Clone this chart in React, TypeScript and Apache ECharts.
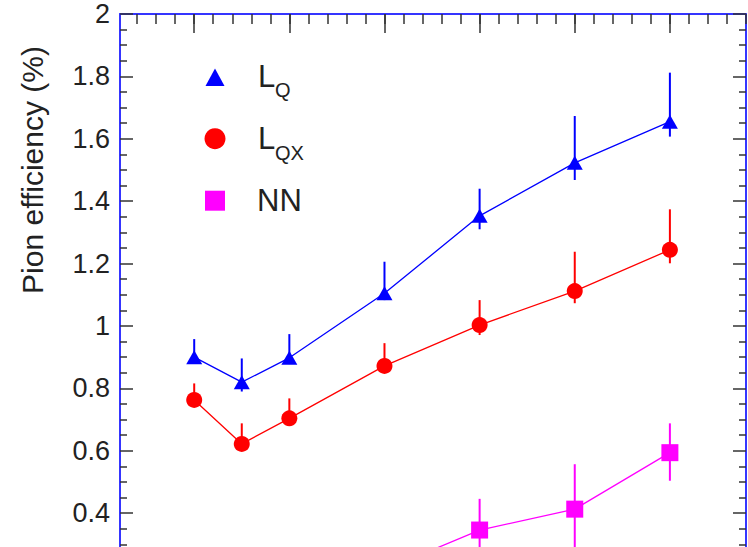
import React, { useEffect, useRef } from "react";
import * as echarts from "echarts";

// x positions (arbitrary units: major ticks at integers)
const xs = [1, 1.5, 2, 3, 4, 5, 6];

// L_Q (blue triangles)
const lqVal = [0.9, 0.82, 0.898, 1.105, 1.353, 1.523, 1.655];
const lqLow = [0.88, 0.79, 0.878, 1.083, 1.31, 1.468, 1.607];
const lqHigh = [0.958, 0.896, 0.974, 1.206, 1.44, 1.673, 1.812];

// L_QX (red circles)
const lqxVal = [0.763, 0.622, 0.704, 0.872, 1.003, 1.112, 1.244];
const lqxLow = [0.745, 0.605, 0.685, 0.85, 0.971, 1.073, 1.201];
const lqxHigh = [0.816, 0.688, 0.768, 0.945, 1.083, 1.238, 1.374];

// NN (magenta squares)
const nnX = [3, 4, 5, 6];
const nnVal = [0.218, 0.346, 0.413, 0.594];
const nnLow = [0.17, 0.25, 0.27, 0.504];
const nnHigh = [0.27, 0.446, 0.557, 0.688];

const xMajorTicks = [1, 2, 3, 4, 5, 6];
const xMinorTicks: number[] = [];
for (let i = 2; i <= 34; i++) xMinorTicks.push(Math.round(i * 0.2 * 10) / 10);

// tick labels visible in the picture (0 and 0.2 lie below the visible area)
const yTickLabels = ["", "", "0.4", "0.6", "0.8", "1", "1.2", "1.4", "1.6", "1.8", "2"];

const BLUE = "#0000ff";
const RED = "#ff0000";
const MAGENTA = "#ff00ff";
const AXIS_BLUE = "#3535ff";
const TICK = "#333333";
const FONT = "'Liberation Sans', Arial, Helvetica, sans-serif";

function errSeries(xv: number[], lo: number[], hi: number[], color: string) {
  return {
    type: "custom",
    xAxisIndex: 0,
    yAxisIndex: 0,
    silent: true,
    z: 3,
    encode: { x: 0, y: [1, 2] },
    data: xv.map((x, i) => [x, lo[i], hi[i]]),
    renderItem: (_p: any, api: any) => {
      const a = api.coord([api.value(0), api.value(1)]);
      const b = api.coord([api.value(0), api.value(2)]);
      return {
        type: "line",
        shape: { x1: a[0], y1: a[1], x2: b[0], y2: b[1] },
        style: { stroke: color, lineWidth: 2 },
      };
    },
  };
}

export default function App() {
  const ref = useRef<HTMLDivElement>(null);
  useEffect(() => {
    if (!ref.current) return;
    const chart = echarts.init(ref.current, undefined, { renderer: "svg" });
    const yAxisBase = {
      type: "value",
      min: 0,
      max: 2,
      interval: 0.2,
      splitLine: { show: false },
      axisLine: { show: true, onZero: false, lineStyle: { color: AXIS_BLUE, width: 2 } },
      axisTick: { show: true, inside: true, length: 13, lineStyle: { color: TICK, width: 1.5 } },
      minorTick: { show: true, splitNumber: 4, length: 7, lineStyle: { color: TICK, width: 1.5 } },
    };
    chart.setOption({
      animation: false,
      backgroundColor: "#ffffff",
      grid: { left: 120, top: 14, width: 626, height: 624, outerBoundsMode: "none" },
      xAxis: [
        {
          type: "value",
          position: "top",
          min: 0.22,
          max: 6.8,
          splitLine: { show: false },
          axisLine: { show: true, onZero: false, lineStyle: { color: AXIS_BLUE, width: 2 } },
          axisTick: {
            show: true,
            inside: true,
            length: 19,
            customValues: xMajorTicks,
            lineStyle: { color: TICK, width: 1.5 },
          },
          axisLabel: { show: false },
        },
        {
          type: "value",
          position: "top",
          min: 0.22,
          max: 6.8,
          splitLine: { show: false },
          axisLine: { show: false, onZero: false },
          axisTick: {
            show: true,
            inside: true,
            length: 10,
            customValues: xMinorTicks,
            lineStyle: { color: TICK, width: 1.5 },
          },
          axisLabel: { show: false },
        },
      ],
      yAxis: [
        {
          ...yAxisBase,
          position: "left",
          axisLabel: {
            show: true,
            margin: 10,
            fontSize: 27,
            color: "#222222",
            fontFamily: FONT,
            formatter: (v: number) => {
              const idx = Math.round(v / 0.2);
              return yTickLabels[idx] ?? "";
            },
          },
        },
        {
          ...yAxisBase,
          position: "right",
          axisLabel: { show: false },
        },
      ],
      series: [
        {
          type: "line",
          name: "LQ",
          data: xs.map((x, i) => [x, lqVal[i]]),
          symbol: "triangle",
          symbolSize: [16, 14],
          itemStyle: { color: BLUE },
          lineStyle: { color: BLUE, width: 1.3 },
          z: 4,
        },
        errSeries(xs, lqLow, lqHigh, BLUE),
        {
          type: "line",
          name: "LQX",
          data: xs.map((x, i) => [x, lqxVal[i]]),
          symbol: "circle",
          symbolSize: 16,
          itemStyle: { color: RED },
          lineStyle: { color: RED, width: 1.3 },
          z: 4,
        },
        errSeries(xs, lqxLow, lqxHigh, RED),
        {
          type: "line",
          name: "NN",
          data: nnX.map((x, i) => [x, nnVal[i]]),
          symbol: "rect",
          symbolSize: 17,
          itemStyle: { color: MAGENTA },
          lineStyle: { color: MAGENTA, width: 1.3 },
          z: 4,
        },
        errSeries(nnX, nnLow, nnHigh, MAGENTA),
      ],
      graphic: [
        {
          type: "text",
          x: 32,
          y: 170,
          rotation: Math.PI / 2,
          style: {
            text: "Pion efficiency (%)",
            fontSize: 30,
            fontFamily: FONT,
            fill: "#222222",
            align: "center",
            verticalAlign: "middle",
          },
        },
        // legend markers
        {
          type: "polygon",
          shape: { points: [[215, 68.5], [224.5, 86], [205.5, 86]] },
          style: { fill: BLUE },
        },
        { type: "circle", shape: { cx: 215, cy: 138.7, r: 10.5 }, style: { fill: RED } },
        { type: "rect", shape: { x: 205, y: 190.7, width: 20, height: 20 }, style: { fill: MAGENTA } },
        // legend texts
        {
          type: "text",
          x: 258,
          y: 76,
          style: { text: "L", fontSize: 31, fontFamily: FONT, fill: "#222222", align: "left", verticalAlign: "middle" },
        },
        {
          type: "text",
          x: 275,
          y: 90,
          style: { text: "Q", fontSize: 20, fontFamily: FONT, fill: "#222222", align: "left", verticalAlign: "middle" },
        },
        {
          type: "text",
          x: 258,
          y: 138.5,
          style: { text: "L", fontSize: 31, fontFamily: FONT, fill: "#222222", align: "left", verticalAlign: "middle" },
        },
        {
          type: "text",
          x: 275,
          y: 153,
          style: { text: "QX", fontSize: 20, fontFamily: FONT, fill: "#222222", align: "left", verticalAlign: "middle" },
        },
        {
          type: "text",
          x: 257,
          y: 200.8,
          style: { text: "NN", fontSize: 31, fontFamily: FONT, fill: "#222222", align: "left", verticalAlign: "middle" },
        },
      ],
    });
    return () => chart.dispose();
  }, []);
  return (
    <div
      ref={ref}
      style={{ position: "fixed", left: 0, top: 0, width: 748, height: 547, background: "#fff" }}
    />
  );
}
